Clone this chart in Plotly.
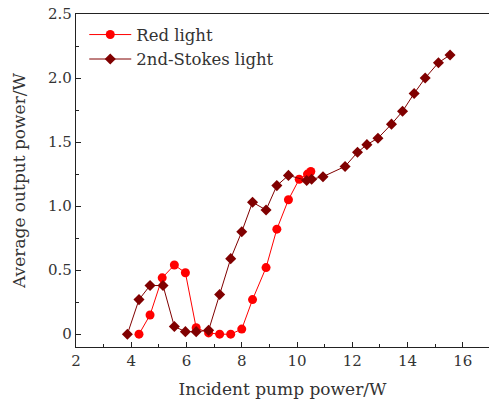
import plotly.graph_objects as go

red_x = [4.28, 4.68, 5.12, 5.56, 5.96, 6.35, 6.80, 7.20, 7.60, 8.00, 8.39, 8.88, 9.27, 9.69, 10.08, 10.38, 10.50]
red_y = [0.00, 0.15, 0.44, 0.54, 0.48, 0.05, 0.01, 0.00, 0.00, 0.04, 0.27, 0.52, 0.82, 1.05, 1.21, 1.25, 1.27]

stokes_x = [3.86, 4.28, 4.68, 5.15, 5.56, 5.96, 6.35, 6.80, 7.20, 7.60, 8.00, 8.39, 8.88, 9.27, 9.69,
            10.35, 10.53, 10.94, 11.74, 12.19, 12.53, 12.93, 13.42, 13.82, 14.24, 14.64, 15.12, 15.54]
stokes_y = [0.00, 0.27, 0.38, 0.38, 0.06, 0.02, 0.02, 0.03, 0.31, 0.59, 0.80, 1.03, 0.97, 1.16, 1.24,
            1.20, 1.21, 1.23, 1.31, 1.42, 1.48, 1.53, 1.64, 1.74, 1.88, 2.00, 2.12, 2.18]

y_tickvals = [0, 0.5, 1.0, 1.5, 2.0, 2.5]
y_ticktext = ["0", "0.5", "1.0", "1.5", "2.0", "2.5"]
x_tickvals = [2, 4, 6, 8, 10, 12, 14, 16]

FONT = "DejaVu Serif"
TXT = "#333"

fig = go.Figure()
fig.add_trace(go.Scatter(
    x=red_x, y=red_y, mode="lines+markers", name="Red light",
    line=dict(color="#FF0000", width=1),
    marker=dict(symbol="circle", size=9, color="#FF0000"),
))
fig.add_trace(go.Scatter(
    x=stokes_x, y=stokes_y, mode="lines+markers", name="2nd-Stokes light",
    line=dict(color="#800000", width=1),
    marker=dict(symbol="diamond", size=8.5, color="#800000"),
))

fig.update_layout(
    width=489, height=403,
    margin=dict(l=76, r=0, t=14, b=56),
    paper_bgcolor="white", plot_bgcolor="white",
    font=dict(family=FONT, size=15, color=TXT),
    showlegend=True,
    legend=dict(x=0.02, y=0.99, xanchor="left", yanchor="top",
                bgcolor="rgba(0,0,0,0)", font=dict(size=16.5, family=FONT, color=TXT),
                itemwidth=42, tracegroupgap=0),
    xaxis=dict(
        range=[2, 16.95], tickvals=x_tickvals, ticks="inside", ticklen=5,
        tickcolor="#222", showline=True, linecolor="#222", linewidth=1.3,
        mirror=True, showgrid=False, zeroline=False,
        minor=dict(dtick=1, tick0=0, ticks="inside", ticklen=3, tickcolor="#222"),
        title=dict(text="Incident pump power/W", font=dict(size=17, family=FONT, color=TXT), standoff=13),
        tickfont=dict(size=15, family=FONT, color=TXT),
    ),
    yaxis=dict(
        range=[-0.1, 2.5], tickvals=y_tickvals, ticktext=y_ticktext,
        ticks="inside", ticklen=5, tickcolor="#222",
        showline=True, linecolor="#222", linewidth=1.3, mirror=True,
        showgrid=False, zeroline=False,
        minor=dict(dtick=0.25, tick0=0, ticks="inside", ticklen=3, tickcolor="#222"),
        title=dict(text="Average output power/W", font=dict(size=17, family=FONT, color=TXT), standoff=18),
        tickfont=dict(size=15, family=FONT, color=TXT),
    ),
)

fig.write_html("out.html")
